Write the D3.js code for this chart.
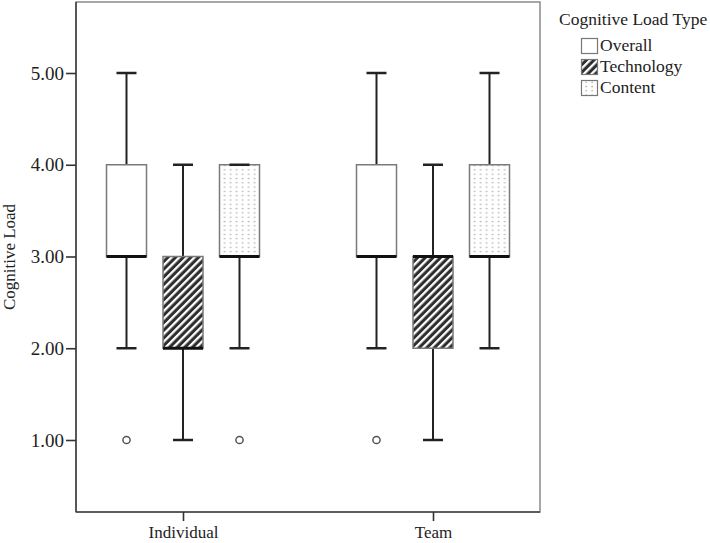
<!DOCTYPE html>
<html>
  <head>
    <meta charset="utf-8">
    <style>
      body { margin: 0; background: #fff; }
      text { font-family: "Liberation Serif", "Times New Roman", serif; fill: #222; }
    </style>
  </head>
  <body>
    <script src="https://d3js.org/d3.v7.min.js"></script>
    <script>
      // data
      var groups = ["Individual", "Team"];
      var types = ["Overall", "Technology", "Content"];
      var mins    = [[2, 1, 2], [2, 1, 2]];
      var q1s     = [[3, 2, 3], [3, 2, 3]];
      var medians = [[3, 2, 3], [3, 3, 3]];
      var q3s     = [[4, 3, 4], [4, 3, 4]];
      var maxs    = [[5, 4, 4], [5, 4, 5]];
      var outliers = [[[1], [], [1]], [[1], [], []]];
      var yTicks = [1, 2, 3, 4, 5];

      var width = 710, height = 543;
      var plot = {left: 76, right: 540, top: 2, bottom: 512};

      var svg = d3.select("body").append("svg")
          .attr("width", width)
          .attr("height", height);

      // patterns
      var defs = svg.append("defs");
      var stripes = defs.append("pattern")
          .attr("id", "stripes")
          .attr("patternUnits", "userSpaceOnUse")
          .attr("width", 5.4).attr("height", 5.4)
          .attr("patternTransform", "rotate(45)");
      stripes.append("rect").attr("width", 5.4).attr("height", 5.4).attr("fill", "#2e2e2e");
      stripes.append("rect").attr("width", 2.3).attr("height", 5.4).attr("fill", "#fff");

      var dots = defs.append("pattern")
          .attr("id", "dots")
          .attr("patternUnits", "userSpaceOnUse")
          .attr("width", 6).attr("height", 4.3);
      dots.append("rect").attr("width", 6).attr("height", 4.3).attr("fill", "#fff");
      dots.append("rect").attr("x", 2.5).attr("y", 1.6).attr("width", 1.2).attr("height", 1.2).attr("fill", "#8e8e8e");

      var fills = {Overall: "#fff", Technology: "url(#stripes)", Content: "url(#dots)"};

      // scales
      var x = d3.scalePoint().domain(groups).range([plot.left, plot.right]).padding(0.428);
      var xSub = d3.scalePoint().domain(types).range([-56.5, 56.5]);
      var y = d3.scaleLinear().domain([1, 5]).range([440, 73]);
      var boxW = 40, capW = 20;

      // frame
      svg.append("rect")
          .attr("x", plot.left).attr("y", plot.top)
          .attr("width", plot.right - plot.left).attr("height", plot.bottom - plot.top)
          .attr("fill", "none").attr("stroke", "#8a8a8a").attr("stroke-width", 1.5);

      // y axis
      var yAxis = svg.append("g")
          .attr("transform", "translate(" + plot.left + ",0)")
          .call(d3.axisLeft(y).tickValues(yTicks).tickFormat(d3.format(".2f")).tickSize(10).tickPadding(2));
      yAxis.select(".domain").attr("d", "M0," + plot.top + "V" + plot.bottom)
          .attr("stroke", "#444").attr("stroke-width", 1.6);
      yAxis.selectAll(".tick line").attr("stroke", "#333").attr("stroke-width", 1.6);
      yAxis.selectAll(".tick text").style("font-size", "19px").attr("fill", "#333");

      // x axis
      var xAxis = svg.append("g")
          .attr("transform", "translate(0," + plot.bottom + ")")
          .call(d3.axisBottom(x).tickSize(9).tickPadding(5));
      xAxis.select(".domain").attr("d", "M" + plot.left + ",0H" + plot.right)
          .attr("stroke", "#444").attr("stroke-width", 1.6);
      xAxis.selectAll(".tick line").attr("stroke", "#333").attr("stroke-width", 1.6);
      xAxis.selectAll(".tick text").style("font-size", "17px").attr("fill", "#222");

      // y title
      svg.append("text")
          .attr("transform", "translate(15," + ((plot.top + plot.bottom) / 2) + ") rotate(-90)")
          .attr("text-anchor", "middle")
          .style("font-size", "17px")
          .text("Cognitive Load");

      // boxes
      var rows = [];
      groups.forEach(function(g, gi) {
        types.forEach(function(t, ti) {
          rows.push({group: g, type: t, min: mins[gi][ti], q1: q1s[gi][ti], med: medians[gi][ti],
                     q3: q3s[gi][ti], max: maxs[gi][ti], out: outliers[gi][ti]});
        });
      });

      var box = svg.append("g").selectAll("g")
          .data(rows)
          .enter().append("g")
          .attr("transform", function(d) { return "translate(" + (x(d.group) + xSub(d.type)) + ",0)"; });

      // whiskers
      box.append("line")
          .attr("y1", function(d) { return y(d.max); })
          .attr("y2", function(d) { return y(d.q3); })
          .attr("stroke", "#222").attr("stroke-width", 2);
      box.append("line")
          .attr("y1", function(d) { return y(d.q1); })
          .attr("y2", function(d) { return y(d.min); })
          .attr("stroke", "#222").attr("stroke-width", 2);

      box.append("rect")
          .attr("x", -boxW / 2)
          .attr("width", boxW)
          .attr("y", function(d) { return y(d.q3); })
          .attr("height", function(d) { return y(d.q1) - y(d.q3); })
          .attr("fill", function(d) { return fills[d.type]; })
          .attr("stroke", "#7a7a7a").attr("stroke-width", 1.5);

      // caps
      box.append("line")
          .attr("x1", -capW / 2).attr("x2", capW / 2)
          .attr("y1", function(d) { return y(d.max); })
          .attr("y2", function(d) { return y(d.max); })
          .attr("stroke", "#222").attr("stroke-width", 2.5);
      box.append("line")
          .attr("x1", -capW / 2).attr("x2", capW / 2)
          .attr("y1", function(d) { return y(d.min); })
          .attr("y2", function(d) { return y(d.min); })
          .attr("stroke", "#222").attr("stroke-width", 2.5);

      // median
      box.append("line")
          .attr("x1", -boxW / 2).attr("x2", boxW / 2)
          .attr("y1", function(d) { return y(d.med); })
          .attr("y2", function(d) { return y(d.med); })
          .attr("stroke", "#111").attr("stroke-width", 3);

      // outliers
      box.selectAll("circle")
          .data(function(d) { return d.out; })
          .enter().append("circle")
          .attr("cy", function(v) { return y(v); })
          .attr("r", 3.6)
          .attr("fill", "#fff").attr("stroke", "#555").attr("stroke-width", 1.5);

      // legend
      var legend = svg.append("g").attr("transform", "translate(559,0)");
      legend.append("text").attr("x", 0).attr("y", 25).style("font-size", "17.5px").text("Cognitive Load Type");
      var item = legend.selectAll("g.item")
          .data(types)
          .enter().append("g")
          .attr("class", "item")
          .attr("transform", function(d, i) { return "translate(0," + (38 + i * 21) + ")"; });
      item.append("rect")
          .attr("x", 22.5).attr("y", 0.5)
          .attr("width", 16).attr("height", 15)
          .attr("fill", function(d) { return fills[d]; })
          .attr("stroke", "#777").attr("stroke-width", 1.2);
      item.append("text")
          .attr("x", 41).attr("y", 13)
          .style("font-size", "17.5px")
          .text(function(d) { return d; });
    </script>
  </body>
</html>
